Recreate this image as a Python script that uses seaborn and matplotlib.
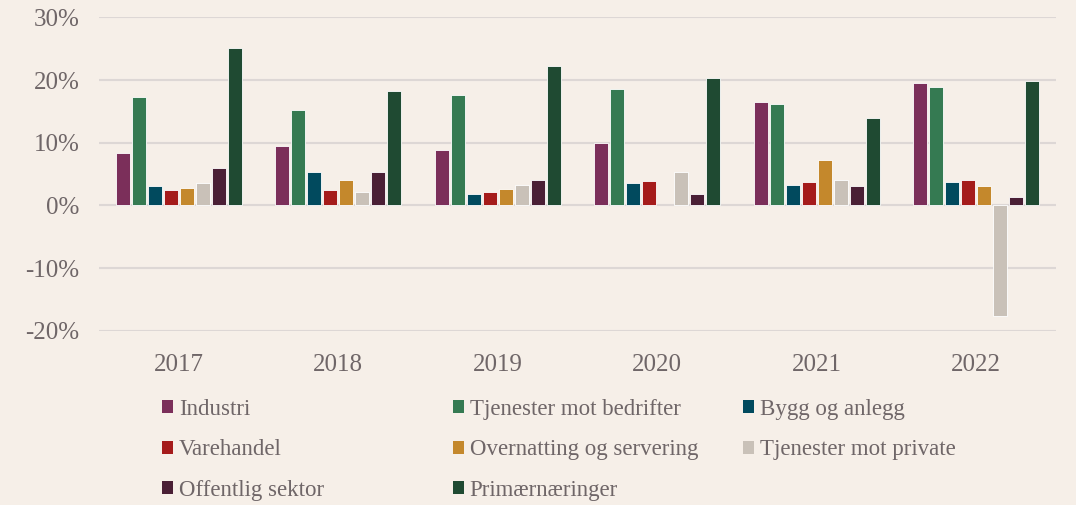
import numpy as np
import pandas as pd
import matplotlib
matplotlib.use("Agg")
import matplotlib.pyplot as plt
from matplotlib.patches import Patch
from matplotlib.ticker import FuncFormatter
import seaborn as sns

years = ["2017", "2018", "2019", "2020", "2021", "2022"]
sectors = ["Industri", "Tjenester mot bedrifter", "Bygg og anlegg", "Varehandel",
           "Overnatting og servering", "Tjenester mot private", "Offentlig sektor",
           "Primærnæringer"]
industri = [8.4, 9.5, 8.8, 9.9, 16.5, 19.6]
tj_bedrifter = [17.3, 15.2, 17.6, 18.5, 16.1, 18.9]
bygg = [3.1, 5.3, 1.8, 3.5, 3.3, 3.7]
varehandel = [2.4, 2.4, 2.2, 3.9, 3.7, 4.1]
overnatting = [2.8, 4.1, 2.6, np.nan, 7.3, 3.1]
tj_private = [3.5, 2.2, 3.3, 5.3, 4.1, -17.6]
offentlig = [5.9, 5.3, 4.0, 1.8, 3.1, 1.3]
primaer = [25.1, 18.3, 22.2, 20.3, 13.9, 19.8]
series = [industri, tj_bedrifter, bygg, varehandel, overnatting, tj_private, offentlig, primaer]
colors = ["#7b2f5a", "#357a52", "#014a5e", "#a51b1b", "#c4882c", "#c9c1b8", "#4a1f35", "#1f4a32"]
yticks = [-20, -10, 0, 10, 20, 30]

rows = []
for s, vals in zip(sectors, series):
    for y, v in zip(years, vals):
        rows.append({"Year": y, "Sector": s, "Value": v})
df = pd.DataFrame(rows).dropna()

bg = "#f6efe8"
txt = "#6f6668"
grid = "#ddd7d5"

sns.set_theme(style="white")
plt.rcParams["font.family"] = ["Liberation Serif", "DejaVu Serif"]

fig = plt.figure(figsize=(10.76, 5.05), dpi=100, facecolor=bg)
ax = fig.add_axes([0.092, 0.3451, 0.8894, 0.6206])
ax.set_facecolor(bg)

sns.barplot(data=df, x="Year", y="Value", hue="Sector", order=years, hue_order=sectors,
            palette=colors, saturation=1, width=0.8, gap=0.12, edgecolor="white",
            linewidth=0.6, ax=ax, legend=False)

ax.set_ylim(-20, 30)
ax.set_xlim(-0.5, 5.5)
ax.set_yticks(yticks)
ax.yaxis.set_major_formatter(FuncFormatter(lambda v, p: f"{int(round(v))}%"))
ax.grid(axis="y", color=grid, linewidth=1.5)
ax.set_axisbelow(True)
for sp in ax.spines.values():
    sp.set_visible(False)
ax.tick_params(axis="both", length=0, labelsize=18, labelcolor=txt)
ax.tick_params(axis="y", pad=14)
ax.tick_params(axis="x", pad=17)
ax.set_xlabel("")
ax.set_ylabel("")

handles = [Patch(facecolor=c, edgecolor="none") for c in colors]
cols = [[0, 3, 6], [1, 4, 7], [2, 5]]
xs = [162, 453, 743]
for col, x in zip(cols, xs):
    fig.legend([handles[i] for i in col], [sectors[i] for i in col],
               loc="upper left", bbox_to_anchor=(x / 1076, 1 - 399 / 505),
               frameon=False, fontsize=16.5, labelcolor=txt,
               handlelength=0.48, handleheight=0.48, handletextpad=0.25,
               labelspacing=0.85, borderpad=0, borderaxespad=0)

fig.savefig("out.png", dpi=100, facecolor=bg)
